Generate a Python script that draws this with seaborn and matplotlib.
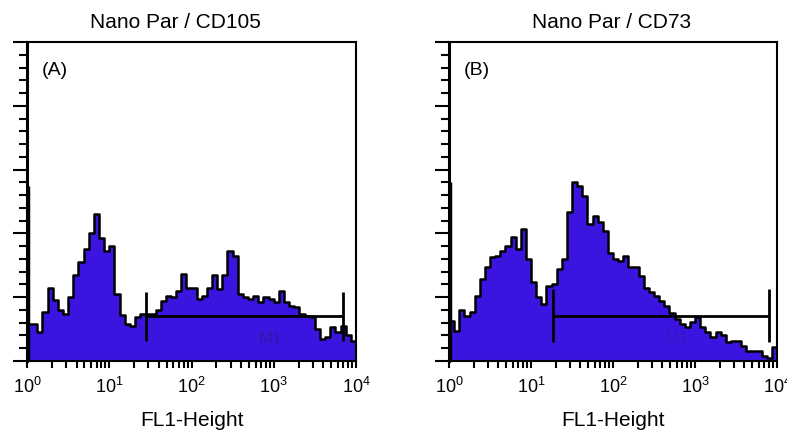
import numpy as np
import pandas as pd
import seaborn as sns
import matplotlib.pyplot as plt
from matplotlib.ticker import LogLocator, MultipleLocator, NullFormatter, FixedLocator

# histogram counts (% of full scale) in 64 channel groups, 10^0 .. 10^4
cd105_counts = [11.6, 11.6, 9.0, 15.5, 23.0, 19.0, 16.0, 14.7,
                20.0, 27.0, 31.0, 35.0, 40.0, 46.0, 38.5, 34.5,
                36.0, 21.0, 14.5, 11.5, 11.0, 13.7, 14.7, 14.7,
                14.7, 16.0, 18.8, 20.4, 20.0, 22.0, 27.3, 23.0,
                23.0, 19.4, 20.4, 23.0, 27.0, 22.6, 27.0, 34.5,
                33.0, 21.0, 20.2, 19.4, 20.4, 18.4, 20.0, 19.4,
                18.4, 22.0, 18.4, 17.2, 16.9, 14.7, 14.1, 13.7,
                10.0, 7.0, 7.5, 10.6, 9.0, 11.0, 8.0, 6.3]
cd73_counts = [12.6, 9.5, 16.0, 14.2, 15.3, 20.5, 25.7, 29.4,
               32.6, 33.0, 34.6, 36.1, 38.8, 35.0, 41.4, 32.0,
               24.7, 20.0, 17.9, 23.6, 24.0, 28.8, 32.0, 46.7,
               56.0, 55.0, 51.8, 43.0, 45.5, 43.5, 40.8, 34.0,
               32.0, 31.4, 33.0, 29.4, 29.4, 26.7, 23.0, 21.6,
               20.5, 18.9, 17.3, 15.0, 13.2, 11.6, 10.6, 12.2,
               13.9, 10.6, 9.0, 7.5, 9.0, 8.0, 5.9, 6.3,
               6.3, 4.8, 3.2, 3.2, 3.2, 1.7, 1.0, 4.4]
first_channel = [55, 56]

# M1 marker: start, end, level, bar bottom, bar top
gate_start = [27.7, 18.7]
gate_end = [7000, 8050]
gate_level = [14.2, 14.2]
gate_low = [6.3, 6.0]
gate_high = [21.6, 22.5]

titles = ['Nano Par / CD105', 'Nano Par / CD73']
tags = ['(A)', '(B)']
decades = [0, 1, 2, 3, 4]

n_bins = len(cd105_counts)
centers = 10 ** ((np.arange(n_bins) + 0.5) / n_bins * 4)
df = pd.concat([
    pd.DataFrame({'fl1': centers, 'count': cd105_counts, 'panel': 'A'}),
    pd.DataFrame({'fl1': centers, 'count': cd73_counts, 'panel': 'B'}),
])

sns.set_style('ticks')
plt.rcParams['font.family'] = ['Liberation Sans', 'DejaVu Sans']
plt.rcParams['mathtext.fontset'] = 'custom'
plt.rcParams['mathtext.rm'] = 'Liberation Sans'
plt.rcParams['mathtext.it'] = 'Liberation Sans'
plt.rcParams['mathtext.default'] = 'regular'
for key in ['text.color', 'axes.labelcolor', 'axes.edgecolor',
            'xtick.color', 'ytick.color']:
    plt.rcParams[key] = 'black'

fill = '#3c14e0'
fig = plt.figure(figsize=(7.87, 4.31), dpi=100)
axes = [fig.add_axes([27 / 787, 69 / 431, 329 / 787, 319 / 431]),
        fig.add_axes([449 / 787, 69 / 431, 328 / 787, 319 / 431])]
title_x = [175 / 787, 612 / 787]

for i, (ax, p) in enumerate(zip(axes, ['A', 'B'])):
    sns.histplot(data=df[df.panel == p], x='fl1', weights='count',
                 bins=n_bins, binrange=(0, 4), log_scale=True,
                 element='step', fill=True, color=fill, alpha=1,
                 edgecolor='black', linewidth=1.8, ax=ax)
    ax.vlines(1.02, 0, first_channel[i], color='black', lw=2.5)
    ax.hlines(gate_level[i], gate_start[i], gate_end[i], color='black', lw=2)
    ax.vlines([gate_start[i], gate_end[i]], gate_low[i], gate_high[i],
              color='black', lw=2)
    ax.text(0.045, 0.915, tags[i], transform=ax.transAxes, fontsize=14,
            ha='left', va='center')
    ax.text(900 if i == 0 else 600, 7.5, 'M1', fontsize=12, color='#2a1680',
            alpha=0.55 if i == 0 else 0.3, ha='center', va='center')

    ax.set_xscale('log')
    ax.set_xlim(1, 1e4)
    ax.set_ylim(0, 100)
    ax.xaxis.set_major_locator(FixedLocator([10 ** d for d in decades]))
    ax.set_xticklabels(['$10^{%d}$' % d for d in decades])
    ax.xaxis.set_minor_locator(LogLocator(base=10, subs=np.arange(2, 10)))
    ax.xaxis.set_minor_formatter(NullFormatter())
    ax.yaxis.set_major_locator(MultipleLocator(20))
    ax.yaxis.set_minor_locator(MultipleLocator(4))
    ax.set_yticklabels([])
    ax.tick_params(axis='x', which='both', direction='out', length=5,
                   width=1.5, labelsize=13, pad=6)
    ax.tick_params(axis='y', which='major', direction='out', length=10, width=1.5)
    ax.tick_params(axis='y', which='minor', direction='out', length=6, width=1.5)
    ax.set_xlabel('FL1-Height', fontsize=15, labelpad=10)
    ax.set_ylabel('')
    for s in ax.spines.values():
        s.set_linewidth(1.5)
        s.set_visible(True)
    ax.spines['left'].set_linewidth(2.2)
    ax.grid(False)
    fig.text(title_x[i], 1 - 22 / 431, titles[i], fontsize=15,
             ha='center', va='center')

fig.savefig('out.png', dpi=100, facecolor='white')
